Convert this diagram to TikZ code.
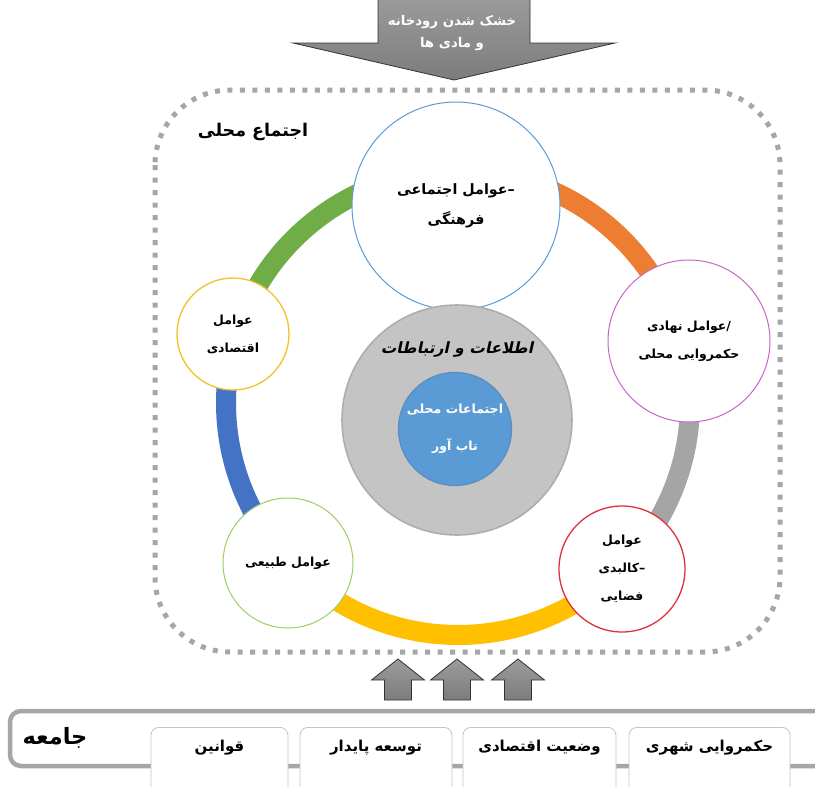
\documentclass[tikz,border=0pt]{standalone}
\usepackage{fontspec}
\newfontfamily\fa[Script=Arabic]{DejaVu Sans}
\newfontfamily\fasl[Script=Arabic,FakeSlant=0.22]{DejaVu Sans}
\TeXXeTstate=1
\definecolor{dotgray}{HTML}{A6A6A6}
\definecolor{rgreen}{HTML}{70AD47}
\definecolor{rorange}{HTML}{ED7D31}
\definecolor{rgray}{HTML}{A5A5A5}
\definecolor{ryellow}{HTML}{FFC000}
\definecolor{rblue}{HTML}{4472C4}
\definecolor{cblue}{HTML}{5B9BD5}
\definecolor{cyellow}{HTML}{F2C12E}
\definecolor{cpink}{HTML}{C766C7}
\definecolor{cred}{HTML}{E0303C}
\definecolor{cgreen}{HTML}{9BD166}
\definecolor{arrtop}{HTML}{9C9C9C}
\definecolor{arrbot}{HTML}{7C7C7C}
\definecolor{boxgray}{HTML}{C4C4C4}
\definecolor{gA}{HTML}{C4C4C4}
\definecolor{gB}{HTML}{BABABA}
\definecolor{gC}{HTML}{9E9E9E}
\definecolor{bA}{HTML}{5B9BD5}
\definecolor{bB}{HTML}{5292CE}
\definecolor{bC}{HTML}{4A82BC}
\pgfdeclareradialshading{grayrim}{\pgfpoint{0bp}{0bp}}{color(0bp)=(gA); color(42bp)=(gA); color(47bp)=(gB); color(50bp)=(gC)}
\pgfdeclareradialshading{bluerim}{\pgfpoint{0bp}{0bp}}{color(0bp)=(bA); color(42bp)=(bA); color(47bp)=(bB); color(50bp)=(bC)}
\tikzset{
  factor/.style={circle, fill=white, inner sep=0pt, line width=1pt, align=center,
    font=\fontsize{12.5}{28}\selectfont\fa\bfseries},
  ringseg/.style={line width=20pt},
  dotline/.style={draw=dotgray, line width=5pt, dash pattern=on 5pt off 7.5pt},
  grayarrow/.style={draw=black!80, line width=0.8pt, top color=arrtop, bottom color=arrbot},
  socbox/.style={draw=boxgray, fill=white, line width=0.8pt, rounded corners=8pt,
    minimum height=80pt, anchor=north},
  boxtext/.style={font=\fontsize{15}{18}\selectfont\fa\bfseries, anchor=center, yshift=-21pt}
}
\begin{document}
\begin{tikzpicture}[x=1pt,y=-1pt]
\clip (0,0) rectangle (815,787);
\fill[white] (0,0) rectangle (815,787);

% top arrow
\path[grayarrow] (378,-5) -- (530,-5) -- (530,43) -- (615,43) -- (454,80) -- (293,43) -- (378,43) -- cycle;
\node[align=center, text=white, font=\fontsize{13.3}{21.5}\selectfont\fa\bfseries] (dry) at (452,33)
  {\beginR خشک شدن رودخانه\endR\\\beginR و مادی ها\endR};

% community border
\draw[dotline, rounded corners=75pt] (155,90) rectangle (780,652);
\node[font=\fontsize{17.5}{20}\selectfont\fa\bfseries] (comm) at (253,132) {\beginR اجتماع محلی\endR};

% ring
\coordinate (rc) at (458,403);
\def\rr{232}
\draw[ringseg, rorange] (rc) ++(269.4:\rr) arc[start angle=269.4, end angle=344.3, radius=\rr];
\draw[ringseg, rgray]   (rc) ++(344.3:\rr) arc[start angle=344.3, end angle=405.3, radius=\rr];
\draw[ringseg, ryellow] (rc) ++(45.3:\rr)  arc[start angle=45.3,  end angle=136.7, radius=\rr];
\draw[ringseg, rblue]   (rc) ++(136.7:\rr) arc[start angle=136.7, end angle=197,   radius=\rr];
\draw[ringseg, rgreen]  (rc) ++(197:\rr)   arc[start angle=197,   end angle=269.4, radius=\rr];

% factor circles
\node[factor, draw=cblue, minimum size=208pt, font=\fontsize{14.3}{30}\selectfont\fa\bfseries] (social) at (456,206)
  {\beginR عوامل اجتماعی\endR–\\\beginR فرهنگی\endR};
\node[factor, draw=cyellow, line width=1.3pt, minimum size=112pt] (econ) at (233,334)
  {\beginR عوامل\endR\\\beginR اقتصادی\endR};
\node[factor, draw=cpink, minimum size=162pt] (inst) at (689,341)
  {\beginR عوامل نهادی\endR/\\\beginR حکمروایی محلی\endR};
\node[factor, draw=cred, line width=1.3pt, minimum size=126pt] (phys) at (622,569)
  {\beginR عوامل\endR\\\beginR کالبدی\endR–\\\beginR فضایی\endR};
\node[factor, draw=cgreen, minimum size=130pt] (nat) at (288,563)
  {\beginR عوامل طبیعی\endR};

% center
\node[circle, minimum size=230pt, inner sep=0pt, shading=grayrim, draw=gC!85, line width=1.6pt,
  label={[font=\fontsize{15.5}{20}\selectfont\fasl\bfseries, yshift=70pt]center:\beginR اطلاعات و ارتباطات\endR}] (info) at (457,420) {};
\node[circle, minimum size=113pt, inner sep=0pt, shading=bluerim, draw=bC!90, line width=1.4pt,
  text=white, align=center,
  font=\fontsize{12.5}{37}\selectfont\fa\bfseries] (core) at (455,429)
  {\beginR اجتماعات محلی\endR\\\beginR تاب آور\endR};

% up arrows
\foreach \ax in {398,457,518}{
  \path[grayarrow] (\ax,659) -- (\ax+26.5,680) -- (\ax+13.5,680) -- (\ax+13.5,700)
    -- (\ax-13.5,700) -- (\ax-13.5,680) -- (\ax-26.5,680) -- cycle;
}

% society bar
\draw[draw=dotgray, line width=4.5pt, rounded corners=11pt] (10,711) rectangle (850,766);
\node[font=\fontsize{22.5}{26}\selectfont\fa\bfseries] (soc) at (55,738) {\beginR جامعه\endR};
\node[socbox, minimum width=137pt, label={[boxtext]north:\beginR قوانین\endR}] (law) at (219.5,727) {};
\node[socbox, minimum width=152pt, label={[boxtext]north:\beginR توسعه پایدار\endR}] (sust) at (376,727) {};
\node[socbox, minimum width=153pt, label={[boxtext]north:\beginR وضعیت اقتصادی\endR}] (ecst) at (539.5,727) {};
\node[socbox, minimum width=161pt, label={[boxtext]north:\beginR حکمروایی شهری\endR}] (gov) at (709.5,727) {};
\end{tikzpicture}
\end{document}
